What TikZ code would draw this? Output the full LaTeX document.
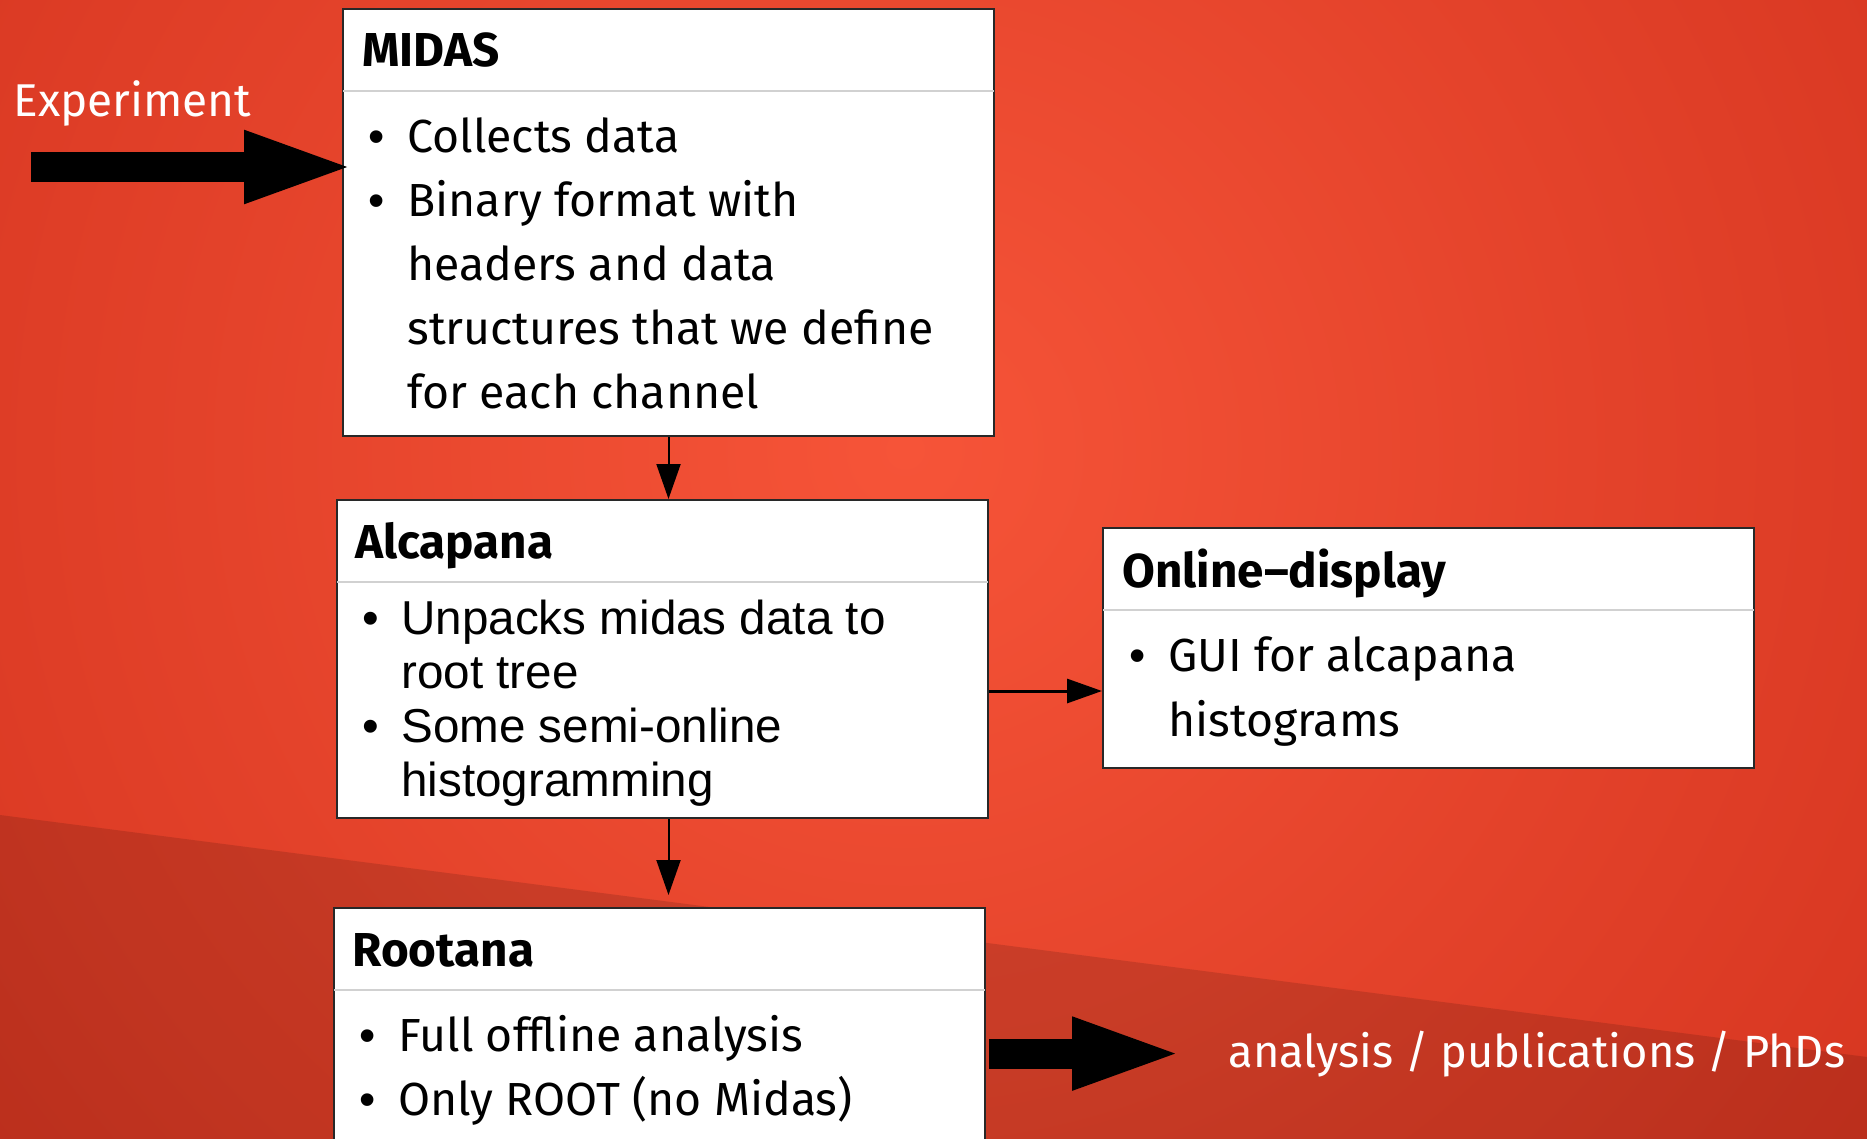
\documentclass[tikz,border=0pt]{standalone}
\usepackage{fontspec}
\setmainfont{Fira Sans}
\newfontfamily\arialfont{Liberation Sans}
\usetikzlibrary{arrows.meta,calc}

\definecolor{bgmid}{RGB}{246,84,56}
\definecolor{bgedge}{RGB}{200,40,22}
\definecolor{boxline}{RGB}{40,40,40}
\pgfdeclareradialshading{slidebg}{\pgfpoint{0bp}{0bp}}{color(0bp)=(bgmid); color(25bp)=(bgedge); color(50bp)=(bgedge)}

\newcommand{\itm}{\strut\makebox[19.5pt][l]{\arialfont\textbullet}}
\newcommand{\cnt}{\hspace*{19.5pt}}

\begin{document}
\begin{tikzpicture}[x=0.5pt,y=-0.5pt,
    box/.style={draw=boxline,line width=1pt,fill=white,minimum width=325.5pt,
        inner sep=0pt,anchor=north west},
    title/.style={font=\fontsize{23.8}{28}\selectfont\bfseries,anchor=base west,inner sep=0pt},
    body/.style={font=\fontsize{23.2}{32}\selectfont,align=left,anchor=north west,inner sep=0pt},
    flow/.style={line width=1pt,-{Triangle[length=17.5pt,width=12pt]}},
    bigarrow/.style={line width=15pt,-{Triangle[length=57pt,width=32pt]}}]
    \tikzstyle{divider}=[draw=black!18,line width=1pt,shorten <=0.5pt,shorten >=0.5pt]
    \tikzstyle{slidetext}=[text=white,font=\fontsize{23}{28}\selectfont,anchor=base west,inner sep=0pt]

    % background
    \useasboundingbox (0,0) rectangle (1867,1139);
    \clip (0,0) rectangle (1867,1139);
    \fill[bgedge] (0,0) rectangle (1867,1139);
    \fill[shading=slidebg] (905,450) circle (870pt);
    \fill[black,opacity=0.13] (0,815) -- (1867,1057) -- (1867,1139) -- (0,1139) -- cycle;

    \node[box,minimum height=213.5pt] (midas) at (342,8) {};
    \node[box,minimum height=159pt] (alcapana) at (336,499) {};
    \node[box,minimum height=120pt] (online) at (1102,527) {};
    \node[box,minimum height=150pt] (rootana) at (333,907) {};

    \foreach \b in {midas,alcapana,online,rootana}
        \draw[divider] ([yshift=-41.5pt]\b.north west) -- ([yshift=-41.5pt]\b.north east);

    \node[title] (midastitle) at ([shift={(10pt,-29.5pt)}]midas.north west) {MIDAS};
    \node[title] (alcapanatitle) at ([shift={(9.5pt,-29.5pt)}]alcapana.north west) {Alcapana};
    \node[title] (onlinetitle) at ([shift={(10pt,-30pt)}]online.north west) {Online–display};
    \node[title] (rootanatitle) at ([shift={(9.5pt,-29.5pt)}]rootana.north west) {Rootana};

    \node[body] (midasbody) at ([shift={(13pt,-49.6pt)}]midas.north west)
        {\itm Collects data\\ \itm Binary format with\\ \cnt headers and data\\
         \cnt structures that we define\\ \cnt for each channel};
    \node[body,font=\arialfont\fontsize{23.8}{27}\selectfont] (alcapanabody)
        at ([shift={(13pt,-48.6pt)}]alcapana.north west)
        {\itm Unpacks midas data to\\ \cnt root tree\\ \itm Some semi-online\\ \cnt histogramming};
    \node[body,font=\fontsize{23.2}{32.5}\selectfont] (onlinebody)
        at ([shift={(13.5pt,-49.1pt)}]online.north west)
        {\itm GUI for alcapana\\ \cnt histograms};
    \node[body] (rootanabody) at ([shift={(13pt,-49.6pt)}]rootana.north west)
        {\itm Full offline analysis\\ \itm Only ROOT (no Midas)};

    \node[slidetext] (experiment) at (13,117) {Experiment};
    \node[slidetext,font=\fontsize{22.6}{28}\selectfont] (results) at (1228,1067) {analysis / publications / PhDs};

    \coordinate (expstart) at (31,167);
    \draw[bigarrow] (expstart) -- ([xshift=8pt]expstart -| midas.west);
    \draw[bigarrow,shorten >=21pt] ([xshift=1.5pt]rootana.east |- results.west) -- (results.west);

    \draw[flow] (midas.south) -- (midas.south |- alcapana.north);
    \draw[flow,shorten >=6pt] (midas.south |- alcapana.south) -- (midas.south |- rootana.north);
    \draw[flow,line width=1.5pt] ([yshift=-16pt]alcapana.east) -- ([yshift=-16pt]alcapana.east -| online.west);
\end{tikzpicture}
\end{document}
